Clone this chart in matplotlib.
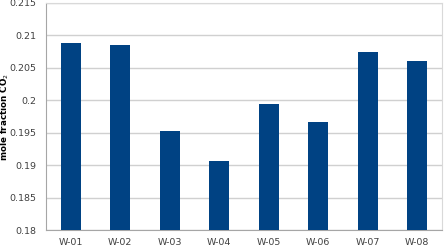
import matplotlib.pyplot as plt
import numpy as np

# gegevens
wells = ['W-01', 'W-02', 'W-03', 'W-04', 'W-05', 'W-06', 'W-07', 'W-08']
co2_fraction = [0.2088, 0.2085, 0.1953, 0.1907, 0.1994, 0.1966, 0.2074, 0.2061]
y_ticks = [0.18, 0.185, 0.19, 0.195, 0.2, 0.205, 0.21, 0.215]
y_labels = ['0.18', '0.185', '0.19', '0.195', '0.2', '0.205', '0.21', '0.215']

fig = plt.figure(figsize=(4.45, 2.48), dpi=100)
ax = fig.add_axes([46 / 445, 18 / 248, 396 / 445, 227 / 248])

x = np.arange(len(wells))
ax.bar(x, co2_fraction, width=0.4, color='#004283', zorder=3)

ax.set_xlim(-0.5, len(wells) - 0.5)
ax.set_ylim(0.18, 0.215)
ax.set_yticks(y_ticks)
ax.set_yticklabels(y_labels)
ax.set_xticks(x)
ax.set_xticklabels(wells)
ax.tick_params(axis='both', length=0, labelsize=6.8, colors='#404040')
ax.tick_params(axis='y', pad=7)
ax.tick_params(axis='x', pad=6)

ax.grid(axis='y', color='#d0d0d0', linewidth=1, zorder=0)
for side in ['left', 'bottom']:
    ax.spines[side].set_color('#a6a6a6')
for side in ['right', 'top']:
    ax.spines[side].set_color('#d9d9d9')

ax.set_ylabel('mole fraction CO$_2$', fontsize=6.3, fontweight='bold')
ax.yaxis.set_label_coords(-35 / 396, 0.5)

plt.savefig('out.png', dpi=100)
plt.close()
